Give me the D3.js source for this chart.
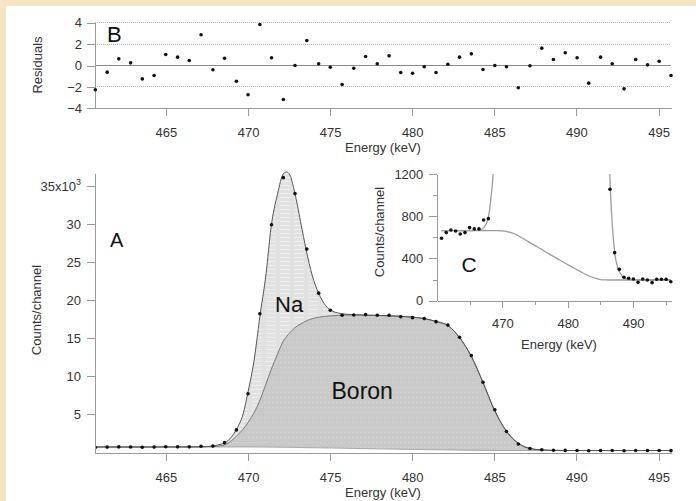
<!DOCTYPE html>
<html lang="en">
  <head>
    <meta charset="utf-8" />
    <title>Na / Boron peak fit</title>
    <script type="text/javascript" src="https://d3js.org/d3.v7.min.js" charset="utf-8"></script>
    <style type="text/css">
      html, body { margin: 0; padding: 0; background: #f6e4c5; overflow: hidden; }
      svg { display: block; }
      .axis text { font-family: "Liberation Sans", Arial, sans-serif; font-size: 13px; fill: #333; }
      .axis path, .axis line { stroke: #9a9a9a; shape-rendering: crispEdges; }
      .title { font-family: "Liberation Sans", Arial, sans-serif; font-size: 13px; fill: #333; }
      .panel { font-family: "Liberation Sans", Arial, sans-serif; fill: #111; }
    </style>
  </head>
  <body>
    <svg id="chart" width="696" height="501"></svg>
    <script type="text/javascript">

      var channelE = [460.70, 461.42, 462.13, 462.85, 463.56, 464.28, 464.99, 465.71, 466.42, 467.14,
                      467.86, 468.57, 469.29, 470.00, 470.72, 471.43, 472.15, 472.86, 473.58, 474.30,
                      475.01, 475.73, 476.44, 477.16, 477.87, 478.59, 479.30, 480.02, 480.73, 481.45,
                      482.17, 482.88, 483.60, 484.31, 485.03, 485.74, 486.46, 487.17, 487.89, 488.60,
                      489.32, 490.04, 490.75, 491.47, 492.18, 492.90, 493.61, 494.33, 495.04, 495.76];
      var counts = [591, 645, 670, 660, 632, 645, 692, 680, 680, 765,
                    777, 1230, 2910, 7670, 18200, 29900, 36100, 34000, 26700, 20900,
                    18650, 17990, 18030, 18080, 17990, 17990, 17800, 17680, 17550, 17150,
                    16700, 15100, 12700, 9170, 5560, 2690, 1056, 455, 297, 222,
                    212, 206, 174, 206, 196, 171, 203, 203, 203, 180];
      var residuals = [-2.27, -0.62, 0.62, 0.25, -1.25, -0.93, 1.03, 0.78, 0.47, 2.87,
                       -0.40, 0.68, -1.47, -2.74, 3.83, 0.72, -3.18, 0.0, 2.34, 0.16,
                       -0.16, -1.78, -0.25, 0.84, 0.16, 0.90, -0.65, -0.72, -0.12, -0.65,
                       0.12, 0.78, 1.09, -0.37, 0.0, -0.12, -2.08, -0.03, 1.62, 0.56,
                       1.19, 0.72, -1.65, 0.78, 0.16, -2.18, 0.56, 0.06, 0.40, -0.93];

      // fitted curves (counts), traced on a finer energy grid
      var fitE = [460.7, 462.5, 464.5, 466.0, 466.8, 467.4, 467.9, 468.3, 468.6, 469.0,
                  469.3, 469.7, 470.0, 470.4, 470.7, 471.1, 471.4, 471.8, 472.15, 472.35,
                  472.55, 472.85, 473.2, 473.55, 473.9, 474.3, 474.65, 475.0, 475.7, 476.4,
                  477.2, 477.9, 478.6, 479.3, 480.0, 480.7, 481.5, 482.2, 482.9, 483.6,
                  484.3, 485.0, 485.75, 486.2, 486.5, 486.8, 487.2, 487.6, 488.0, 488.5,
                  489.2, 490.0, 492.0, 494.0, 495.8];
      var fitTotal = [663, 663, 663, 666, 675, 715, 800, 1000, 1220, 2000,
                      3000, 5000, 7900, 12500, 17500, 23500, 29500, 34000, 36600, 36850,
                      36450, 34100, 30300, 26500, 23300, 20900, 19500, 18700, 18200, 18070,
                      18000, 17970, 17920, 17850, 17750, 17560, 17150, 16600, 15000, 12600,
                      9200, 5560, 2700, 1600, 1090, 730, 450, 320, 262, 220,
                      203, 198, 196, 196, 196];
      var fitBoron = [663, 663, 663, 663, 668, 685, 720, 820, 980, 1500,
                      2100, 3000, 3900, 5300, 6700, 9000, 10800, 12900, 14600, 15200,
                      15700, 16350, 16850, 17250, 17550, 17730, 17840, 17910, 18000, 18040,
                      18000, 17970, 17920, 17850, 17750, 17560, 17150, 16600, 15000, 12600,
                      9200, 5560, 2700, 1600, 1090, 730, 450, 320, 262, 220,
                      203, 198, 196, 196, 196];
      var fitBg = [663, 663, 663, 663, 663, 663, 663, 663, 663, 663,
                   663, 662, 661, 658, 654, 649, 643, 634, 624, 617,
                   610, 600, 588, 575, 562, 548, 535, 522, 497, 471,
                   441, 416, 391, 366, 342, 318, 291, 267, 246, 227,
                   211, 200, 197, 196, 196, 196, 196, 196, 196, 196,
                   196, 196, 196, 196, 196];

      var energyTicks = [465, 470, 475, 480, 485, 490, 495];
      var residTicks = [-4, -2, 0, 2, 4];
      var countTicks = [5000, 10000, 15000, 20000, 25000, 30000, 35000];
      var insetTicksY = [0, 400, 800, 1200];
      var insetMinorY = [200, 600, 1000];
      var insetTicksX = [470, 480, 490];
      var insetMinorX = [465, 475, 485, 495];

      var pts = channelE.map((e, i) => ({ e: e, c: counts[i], r: residuals[i] }));
      var fit = fitE.map((e, i) => ({ e: e, tot: fitTotal[i], b: fitBoron[i], bg: fitBg[i] }));

      var svg = d3.select("#chart");

      // white sheet on the beige background
      svg.append("rect").attr("x", 6).attr("y", 6).attr("width", 690).attr("height", 495).attr("fill", "#fff");

      // textures for the filled components
      var defs = svg.append("defs");
      var pNa = defs.append("pattern").attr("id", "naFill")
        .attr("patternUnits", "userSpaceOnUse").attr("width", 14).attr("height", 4);
      pNa.append("rect").attr("width", 14).attr("height", 4).attr("fill", "#e1e1e1");
      pNa.append("line").attr("x1", 0).attr("x2", 10).attr("y1", 1.5).attr("y2", 1.5)
        .attr("stroke", "#efefef").attr("stroke-width", 1);
      var pB = defs.append("pattern").attr("id", "boronFill")
        .attr("patternUnits", "userSpaceOnUse").attr("width", 4).attr("height", 5);
      pB.append("rect").attr("width", 4).attr("height", 5).attr("fill", "#c9c9c9");
      pB.append("line").attr("x1", 0).attr("x2", 2).attr("y1", 2.5).attr("y2", 2.5)
        .attr("stroke", "#d2d2d2").attr("stroke-width", 1);

      defs.append("clipPath").attr("id", "clipMain").append("rect")
        .attr("x", 95).attr("y", 170).attr("width", 580).attr("height", 285);
      defs.append("clipPath").attr("id", "clipInset").append("rect")
        .attr("x", 437.3).attr("y", 174).attr("width", 238).attr("height", 130);

      function styleAxis(g) {
        g.attr("class", "axis").attr("font-family", null).attr("font-size", null);
      }

      // ---------------- B: residuals ----------------
      var xR = d3.scaleLinear().domain([460.68, 495.76]).range([95, 671]);
      var yR = d3.scaleLinear().domain([-4, 4]).range([108.3, 22.7]);

      svg.append("g").selectAll("line").data(residTicks).join("line")
        .attr("x1", 95).attr("x2", 671)
        .attr("y1", d => yR(d)).attr("y2", d => yR(d))
        .attr("stroke", d => d === 0 ? "#8a8a8a" : "#b5b5b5")
        .attr("stroke-dasharray", d => d === 0 ? null : "1,1")
        .attr("shape-rendering", "crispEdges");

      svg.append("g").attr("transform", "translate(95,0)")
        .call(d3.axisLeft(yR).tickValues(residTicks).tickSize(8).tickSizeOuter(0).tickPadding(5))
        .call(styleAxis);
      svg.append("g").attr("transform", "translate(0,108.3)")
        .call(d3.axisBottom(xR).tickValues(energyTicks).tickSize(8).tickSizeOuter(0).tickPadding(11))
        .call(styleAxis);

      svg.append("g").selectAll("circle").data(pts).join("circle")
        .attr("cx", d => xR(d.e)).attr("cy", d => yR(d.r)).attr("r", 1.8).attr("fill", "#111");

      svg.append("text").attr("class", "title").attr("text-anchor", "middle")
        .attr("transform", "translate(42,65) rotate(-90)").text("Residuals");
      svg.append("text").attr("class", "title").attr("text-anchor", "middle")
        .attr("x", 383).attr("y", 152).text("Energy (keV)");
      svg.append("text").attr("class", "panel").attr("x", 107).attr("y", 41.5)
        .attr("font-size", 22).text("B");

      // ---------------- A: spectrum ----------------
      var xM = d3.scaleLinear().domain([460.68, 495.76]).range([95, 671]);
      var yM = d3.scaleLinear().domain([-170, 36710]).range([453.3, 173]);

      var main = svg.append("g").attr("clip-path", "url(#clipMain)");
      main.append("path").datum(fit)
        .attr("d", d3.area().curve(d3.curveMonotoneX).x(d => xM(d.e)).y0(d => yM(d.bg)).y1(d => yM(d.b)))
        .attr("fill", "url(#boronFill)");
      main.append("path").datum(fit)
        .attr("d", d3.area().curve(d3.curveMonotoneX).x(d => xM(d.e)).y0(d => yM(d.b)).y1(d => yM(d.tot)))
        .attr("fill", "url(#naFill)");
      main.append("path").datum(fit)
        .attr("d", d3.line().curve(d3.curveMonotoneX).x(d => xM(d.e)).y(d => yM(d.bg)))
        .attr("fill", "none").attr("stroke", "#999").attr("stroke-width", 0.8);
      main.append("path").datum(fit)
        .attr("d", d3.line().curve(d3.curveMonotoneX).x(d => xM(d.e)).y(d => yM(d.b)))
        .attr("fill", "none").attr("stroke", "#6a6a6a").attr("stroke-width", 0.9);
      main.append("path").datum(fit)
        .attr("d", d3.line().curve(d3.curveMonotoneX).x(d => xM(d.e)).y(d => yM(d.tot)))
        .attr("fill", "none").attr("stroke", "#555").attr("stroke-width", 1);
      main.append("g").selectAll("circle").data(pts).join("circle")
        .attr("cx", d => xM(d.e)).attr("cy", d => yM(d.c)).attr("r", 1.8).attr("fill", "#111");

      var gYM = svg.append("g").attr("transform", "translate(95,0)")
        .call(d3.axisLeft(yM).tickValues(countTicks).tickSize(8).tickSizeOuter(0).tickPadding(6)
          .tickFormat(d => d / 1000))
        .call(styleAxis);
      // top label carries the x10^3 multiplier
      gYM.selectAll(".tick text").filter(d => d === 35000).text(null)
        .call(t => {
          t.append("tspan").text("35x10");
          t.append("tspan").attr("font-size", 9).attr("dy", "-0.6em").text("3");
        });
      svg.append("g").attr("transform", "translate(0,453.3)")
        .call(d3.axisBottom(xM).tickValues(energyTicks).tickSize(8).tickSizeOuter(0).tickPadding(11))
        .call(styleAxis);

      svg.append("text").attr("class", "title").attr("text-anchor", "middle")
        .attr("transform", "translate(41,310) rotate(-90)").text("Counts/channel");
      svg.append("text").attr("class", "title").attr("text-anchor", "middle")
        .attr("x", 383).attr("y", 496.5).text("Energy (keV)");
      svg.append("text").attr("class", "panel").attr("x", 110).attr("y", 247)
        .attr("font-size", 20).text("A");
      svg.append("text").attr("class", "panel").attr("x", 275).attr("y", 311.5)
        .attr("font-size", 22).text("Na");
      svg.append("text").attr("class", "panel").attr("x", 331.5).attr("y", 399)
        .attr("font-size", 23).text("Boron");

      // ---------------- C: inset, low counts ----------------
      var xI = d3.scaleLinear().domain([460.05, 495.9]).range([437.3, 671.7]);
      var yI = d3.scaleLinear().domain([0, 1200]).range([300.7, 174]);

      var inset = svg.append("g").attr("clip-path", "url(#clipInset)");
      inset.append("path").datum(fit)
        .attr("d", d3.line().curve(d3.curveMonotoneX).x(d => xI(d.e)).y(d => yI(d.bg)))
        .attr("fill", "none").attr("stroke", "#9c9c9c").attr("stroke-width", 1.3);
      inset.append("path").datum(fit)
        .attr("d", d3.line().curve(d3.curveMonotoneX).x(d => xI(d.e)).y(d => yI(d.tot)))
        .attr("fill", "none").attr("stroke", "#9c9c9c").attr("stroke-width", 1.3);
      inset.append("g").selectAll("circle").data(pts).join("circle")
        .attr("cx", d => xI(d.e)).attr("cy", d => yI(d.c)).attr("r", 1.8).attr("fill", "#111");

      svg.append("g").attr("transform", "translate(437.3,0)")
        .call(d3.axisLeft(yI).tickValues(insetTicksY).tickSize(8).tickSizeOuter(0).tickPadding(6)
          .tickFormat(d3.format("d")))
        .call(styleAxis);
      svg.append("g").attr("transform", "translate(437.3,0)")
        .call(d3.axisLeft(yI).tickValues(insetMinorY).tickSize(4).tickSizeOuter(0).tickFormat(""))
        .call(styleAxis).call(g => g.select(".domain").remove());
      svg.append("g").attr("transform", "translate(0,300.7)")
        .call(d3.axisBottom(xI).tickValues(insetTicksX).tickSize(7).tickSizeOuter(0).tickPadding(11))
        .call(styleAxis);
      svg.append("g").attr("transform", "translate(0,300.7)")
        .call(d3.axisBottom(xI).tickValues(insetMinorX).tickSize(4).tickSizeOuter(0).tickFormat(""))
        .call(styleAxis).call(g => g.select(".domain").remove());

      svg.append("text").attr("class", "title").attr("text-anchor", "middle")
        .attr("transform", "translate(384,232) rotate(-90)").text("Counts/channel");
      svg.append("text").attr("class", "title").attr("text-anchor", "middle")
        .attr("x", 559).attr("y", 348.5).text("Energy (keV)");
      svg.append("text").attr("class", "panel").attr("x", 461.5).attr("y", 271.5)
        .attr("font-size", 21).text("C");
    </script>
  </body>
</html>
